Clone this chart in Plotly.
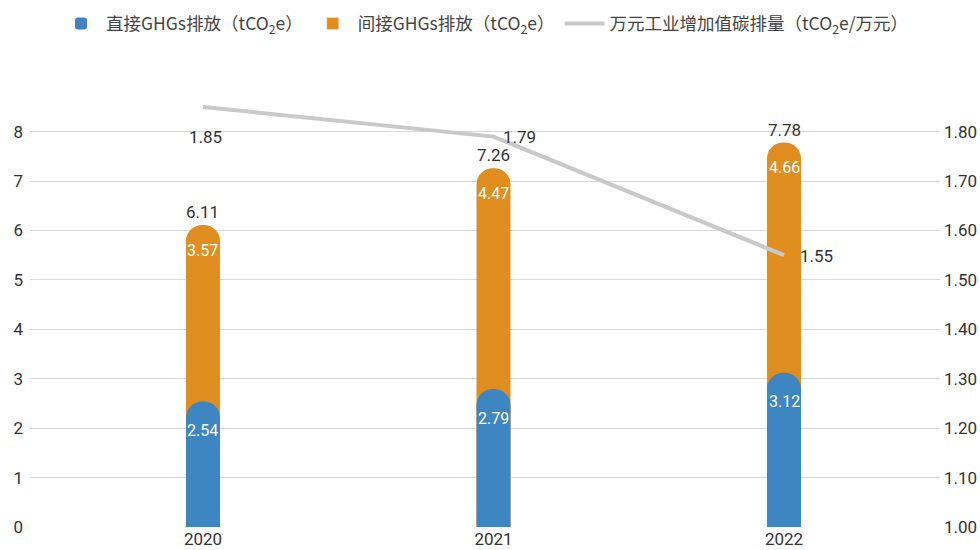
import plotly.graph_objects as go

years = [2020, 2021, 2022]
direct = [2.54, 2.79, 3.12]
indirect = [3.57, 4.47, 4.66]
totals = [6.11, 7.26, 7.78]
intensity = [1.85, 1.79, 1.55]

left_ticks = [0, 1, 2, 3, 4, 5, 6, 7, 8]
right_ticks = [1.0, 1.1, 1.2, 1.3, 1.4, 1.5, 1.6, 1.7, 1.8]

BLUE = "#3e86c1"
ORANGE = "#e08e1f"
GRAY = "#c8c9c9"
NUMFONT = "Roboto, Liberation Sans Narrow, DejaVu Sans Condensed"
CJK = "Noto Sans CJK SC"
XR = [2019.4045, 2022.537]

fig = go.Figure()

fig.add_trace(go.Bar(
    x=years, y=totals, name="间接GHGs排放（tCO<sub>2</sub>e）",
    marker=dict(color=ORANGE, cornerradius="50%", line=dict(width=0)),
    width=0.117, showlegend=False, hoverinfo="skip",
))
fig.add_trace(go.Bar(
    x=years, y=direct, name="直接GHGs排放（tCO<sub>2</sub>e）", xaxis="x2",
    marker=dict(color=BLUE, cornerradius="50%", line=dict(width=0)),
    width=0.117, legendrank=1,
))
fig.add_trace(go.Bar(
    x=[None], y=[None], name="间接GHGs排放（tCO<sub>2</sub>e）",
    marker=dict(color=ORANGE), legendrank=2,
))
fig.add_trace(go.Scatter(
    x=years, y=intensity, yaxis="y2", mode="lines",
    name="万元工业增加值碳排量（tCO<sub>2</sub>e/万元）",
    line=dict(color=GRAY, width=4), cliponaxis=False, legendrank=3,
))

numf = dict(family=NUMFONT, size=17, color="#333333")
whitef = dict(family=NUMFONT, size=16, color="white")
for x, d, o, t in zip(years, direct, indirect, totals):
    fig.add_annotation(x=x, y=t, text=f"{t:.2f}", showarrow=False, yshift=13, font=numf)
    fig.add_annotation(x=x, y=t, text=f"{o:.2f}", showarrow=False, yshift=-25, font=whitef)
    fig.add_annotation(x=x, y=d, text=f"{d:.2f}", showarrow=False, yshift=-29, font=whitef)

line_shift = [(3, -30), (26, 0), (32, -1)]
for (x, v), (dx, dy) in zip(zip(years, intensity), line_shift):
    fig.add_annotation(x=x, y=v, yref="y2", text=f"{v:.2f}", showarrow=False,
                       xshift=dx, yshift=dy, font=numf)

fig.update_layout(
    width=980, height=550,
    margin=dict(l=30, r=40, t=102, b=23, autoexpand=False),
    paper_bgcolor="white", plot_bgcolor="white",
    barmode="overlay",
    font=dict(family=CJK, color="#444444", size=16),
    legend=dict(orientation="h", x=0.5, xanchor="center", y=0.99, yref="container",
                yanchor="top", font=dict(size=17.5, family=CJK, color="#444444"),
                itemwidth=40, traceorder="normal", tracegroupgap=0),
    xaxis=dict(range=XR, tickvals=years, ticktext=[str(y) for y in years],
               showgrid=False, zeroline=False, showline=False,
               tickfont=numf, ticks="", automargin=False),
    xaxis2=dict(range=XR, overlaying="x", visible=False),
    yaxis=dict(range=[0, 8.6], tickvals=left_ticks, showgrid=True, gridcolor="#d9d9d9",
               gridwidth=1, zeroline=False, showline=False, tickfont=numf,
               ticklabelstandoff=6, automargin=False),
    yaxis2=dict(range=[1.0, 1.86], tickvals=right_ticks, ticktext=[f"{v:.2f}" for v in right_ticks],
                overlaying="y", side="right", showgrid=False, zeroline=False, showline=False,
                tickfont=numf, ticklabelstandoff=3, automargin=False),
)

fig.write_html("out.html")
